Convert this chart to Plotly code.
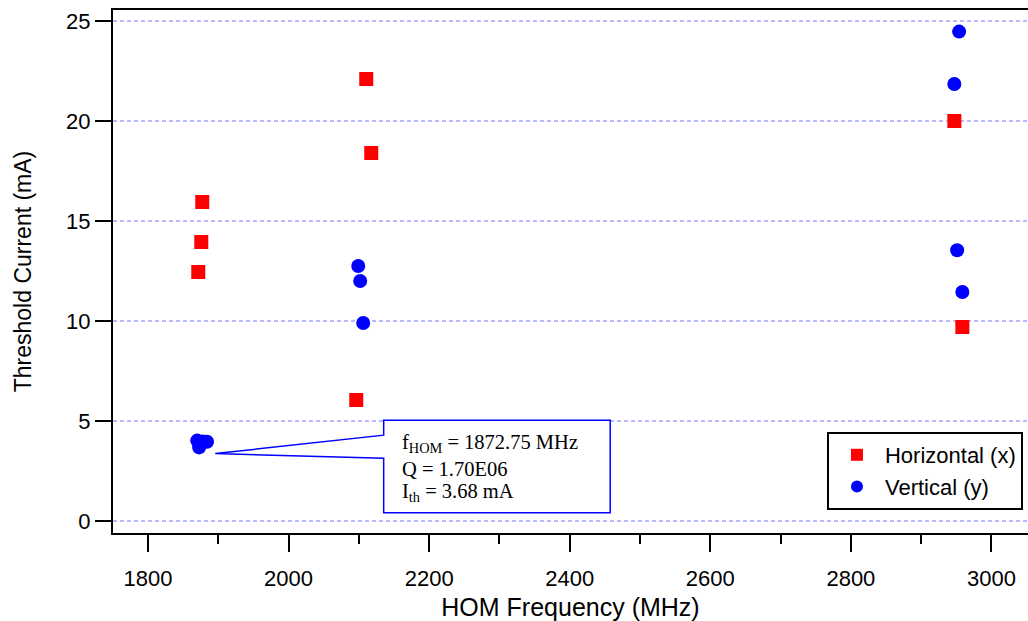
import plotly.graph_objects as go

# Data
horiz_freq = [1871.5, 1875.8, 1877.2, 2096.3, 2110.5, 2117.6, 2947.2, 2958.6]
horiz_ith = [12.45, 13.95, 15.95, 6.05, 22.1, 18.4, 20.0, 9.7]

vert_freq = [1870.0, 1872.75, 1878.0, 1884.0, 2099.1, 2101.9, 2106.2, 2947.2, 2954.0, 2951.2, 2958.6]
vert_ith = [4.02, 3.68, 3.98, 3.96, 12.75, 12.0, 9.9, 21.85, 24.47, 13.54, 11.45]

x_ticks = [1800, 2000, 2200, 2400, 2600, 2800, 3000]
y_ticks = [0, 5, 10, 15, 20, 25]

note_lines = ["f<sub>HOM</sub> = 1872.75 MHz", "Q = 1.70E06", "I<sub>th</sub> = 3.68 mA"]

fig = go.Figure()
fig.add_trace(go.Scatter(
    x=horiz_freq, y=horiz_ith, mode="markers", name="Horizontal (x)",
    marker=dict(symbol="square", size=14, color="#ff0000", line=dict(width=0)),
))
fig.add_trace(go.Scatter(
    x=vert_freq, y=vert_ith, mode="markers", name="Vertical (y)",
    marker=dict(symbol="circle", size=14, color="#0000ff", line=dict(width=0)),
))

# Horizontal dotted grid lines at the y ticks
for yv in y_ticks:
    fig.add_shape(type="line", xref="paper", yref="y", x0=0, x1=1, y0=yv, y1=yv,
                  line=dict(color="#7070ff", width=1, dash="4px,3px"), layer="below")

# Callout box with pointer (data coordinates)
bx0, bx1, by0, by1 = 2135.3, 2457.6, 0.41, 5.04
tipx, tipy = 1895.7, 3.37
path = (f"M {bx0},{by1} L {bx1},{by1} L {bx1},{by0} L {bx0},{by0} "
        f"L {bx0},3.14 L {tipx},{tipy} L {bx0},4.29 Z")
fig.add_shape(type="path", path=path, xref="x", yref="y",
              line=dict(color="#0000ff", width=1.5), fillcolor="white", layer="above")

for txt, yy in zip(note_lines, [3.875, 2.6, 1.45]):
    fig.add_annotation(x=2158, y=yy, xref="x", yref="y", text=txt, showarrow=False,
                       xanchor="left", yanchor="middle",
                       font=dict(family="Liberation Serif, Times New Roman, serif", size=20.5, color="black"))

fig.update_layout(
    width=1028, height=621,
    margin=dict(l=113, r=0, t=10, b=88),
    paper_bgcolor="white", plot_bgcolor="white",
    font=dict(family="Liberation Sans, Arial, sans-serif", color="black", size=22),
    showlegend=True,
    legend=dict(
        x=0.9945, y=0.044, xanchor="right", yanchor="bottom",
        bgcolor="white", bordercolor="black", borderwidth=2,
        font=dict(size=22, color="black"),
        itemsizing="constant", itemwidth=46,
    ),
)

fig.update_xaxes(
    range=[1750.2, 3052], tickvals=x_ticks, ticktext=[str(v) for v in x_ticks],
    showgrid=False, zeroline=False, automargin=False,
    showline=True, linecolor="black", linewidth=2, mirror=True,
    ticks="outside", ticklen=17, tickwidth=2, tickcolor="black",
    ticklabelstandoff=8,
    minor=dict(dtick=100, tick0=1700, ticks="outside", ticklen=9, tickwidth=2, tickcolor="black", showgrid=False),
    tickfont=dict(size=22),
    title=dict(text="HOM Frequency (MHz)", font=dict(size=25), standoff=12),
)
fig.update_yaxes(
    range=[-0.6, 25.55], tickvals=y_ticks, ticktext=[str(v) for v in y_ticks],
    showgrid=False, zeroline=False, automargin=False,
    showline=True, linecolor="black", linewidth=2, mirror=False,
    ticks="outside", ticklen=16, tickwidth=2, tickcolor="black",
    tickfont=dict(size=22),
    title=dict(text="Threshold Current (mA)", font=dict(size=23), standoff=28),
)

fig.write_html("out.html", config={"displayModeBar": False},
               post_script="document.body.style.margin='0px';document.body.style.overflow='hidden';")
